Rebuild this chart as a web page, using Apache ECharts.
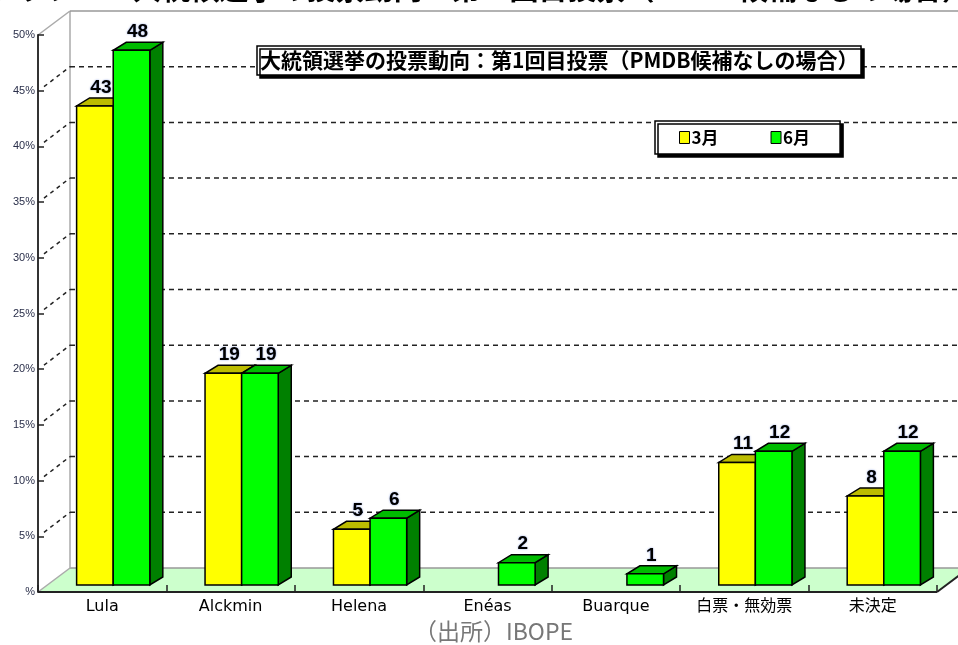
<!DOCTYPE html>
<html>
<head>
<meta charset="utf-8">
<style>
  html, body { margin: 0; padding: 0; background: #fff; }
  #main { width: 958px; height: 645px; }
</style>
<script src="https://cdn.jsdelivr.net/npm/echarts@6/dist/echarts.min.js"></script>
</head>
<body>
<div id="main"></div>
<script>
// 候補者
const categories = ['Lula', 'Alckmin', 'Helena', 'Enéas', 'Buarque', '白票・無効票', '未決定']
// 3月 / 6月 (%)
const march = [43, 19, 5, 0, 0, 11, 8]
const june = [48, 19, 6, 2, 1, 12, 12]
const yTicks = [0, 5, 10, 15, 20, 25, 30, 35, 40, 45, 50]

const cjk = '"Noto Sans CJK JP", "Liberation Sans", sans-serif'
const wallDx = 32, wallDy = -24   // 奥の壁までのずれ
const barDx = 11, barDy = -7      // 棒の前面の位置
const depDx = 13, depDy = -8      // 棒の奥行き

// 3D風の棒 (0 = 3月, 1 = 6月)
function barItem(side, front, top, sideColor) {
    return function (params, api) {
        const idx = api.value(0)
        const val = api.value(1)
        if (!val) return null
        const base = api.coord([idx, 0])
        const tip = api.coord([idx, val])
        const bw = api.size([1, 0])[0] * 0.285
        const x0 = base[0] + (side === 0 ? -bw : 0) + barDx
        const x1 = x0 + bw
        const yb = base[1] + barDy
        const yt = tip[1] + barDy
        const line = { stroke: '#000', lineWidth: 1.5 }
        return {
            type: 'group',
            children: [
                { type: 'polygon', shape: { points: [[x1, yt], [x1, yb], [x1 + depDx, yb + depDy], [x1 + depDx, yt + depDy]] },
                  style: Object.assign({ fill: sideColor }, line) },
                { type: 'polygon', shape: { points: [[x0, yt], [x1, yt], [x1 + depDx, yt + depDy], [x0 + depDx, yt + depDy]] },
                  style: Object.assign({ fill: top }, line) },
                { type: 'rect', shape: { x: x0, y: yt, width: bw, height: yb - yt },
                  style: Object.assign({ fill: front }, line) },
                { type: 'text', x: (x0 + x1) / 2 + 6, y: yt + depDy - 1,
                  style: { text: String(val), fill: '#000', font: 'bold 19px "Liberation Sans", Arial',
                           align: 'center', verticalAlign: 'bottom',
                           textShadowColor: 'rgba(40,80,200,0.55)', textShadowBlur: 2 } }
            ]
        }
    }
}

// 床・壁・補助線
function frameItem(params, api) {
    const v = api.value(1)
    const cs = params.coordSys
    const p = api.coord([0, v])
    const y = p[1]
    const left = cs.x, right = cs.x + cs.width
    const children = []
    if (v === 0) {
        children.push({ type: 'polygon', shape: { points: [[left, y], [right, y], [right + wallDx, y + wallDy], [left + wallDx, y + wallDy]] },
                        style: { fill: '#ccffcc', stroke: null } })
        children.push({ type: 'line', shape: { x1: left + wallDx, y1: y + wallDy, x2: right + wallDx, y2: y + wallDy },
                        style: { stroke: '#999', lineWidth: 1.5 } })
        children.push({ type: 'line', shape: { x1: left, y1: y, x2: left + wallDx, y2: y + wallDy },
                        style: { stroke: '#aaa', lineWidth: 1.5 } })
        children.push({ type: 'line', shape: { x1: left, y1: y, x2: right, y2: y },
                        style: { stroke: '#222', lineWidth: 2 } })
        children.push({ type: 'line', shape: { x1: right, y1: y, x2: right + wallDx, y2: y + wallDy },
                        style: { stroke: '#222', lineWidth: 2 } })
        // 奥の壁の縦線
        const topY = api.coord([0, 50])[1]
        children.push({ type: 'line', shape: { x1: left + wallDx, y1: y + wallDy, x2: left + wallDx, y2: topY + wallDy },
                        style: { stroke: '#aaa', lineWidth: 1.5 } })
    } else if (v === 50) {
        children.push({ type: 'line', shape: { x1: left, y1: y, x2: left + wallDx, y2: y + wallDy },
                        style: { stroke: '#aaa', lineWidth: 1.5 } })
        children.push({ type: 'line', shape: { x1: left + wallDx, y1: y + wallDy, x2: right + wallDx, y2: y + wallDy },
                        style: { stroke: '#999', lineWidth: 1.5 } })
    } else {
        children.push({ type: 'line', shape: { x1: left + 6, y1: y - 4, x2: left + wallDx, y2: y + wallDy },
                        style: { stroke: '#222', lineWidth: 1.5, lineDash: [4, 4] } })
        children.push({ type: 'line', shape: { x1: left + wallDx, y1: y + wallDy, x2: right + wallDx, y2: y + wallDy },
                        style: { stroke: '#222', lineWidth: 1.5, lineDash: [5, 4] } })
    }
    return { type: 'group', children: children }
}

const chart = echarts.init(document.getElementById('main'))
chart.setOption({
    animation: false,
    backgroundColor: '#fff',
    title: {
        text: '大統領選挙の投票動向：第1回目投票（PMDB候補なしの場合）',
        left: 257, top: 46,
        padding: [4, 3, 4, 3],
        backgroundColor: '#fff',
        borderColor: '#000', borderWidth: 1.5,
        shadowColor: '#000', shadowOffsetX: 3, shadowOffsetY: 3, shadowBlur: 0,
        textStyle: { fontFamily: cjk, fontWeight: 'bold', fontSize: 21, color: '#000' }
    },
    legend: {
        left: 655, top: 121,
        padding: [8, 30, 8, 24],
        itemGap: 52,
        itemWidth: 10, itemHeight: 12,
        icon: 'rect',
        backgroundColor: '#fff',
        borderColor: '#000', borderWidth: 1.5,
        shadowColor: '#000', shadowOffsetX: 3, shadowOffsetY: 3, shadowBlur: 0,
        textStyle: { fontFamily: cjk, fontWeight: 'bold', fontSize: 17, color: '#000', padding: [0, 0, 0, -3] },
        data: [
            { name: '3月', itemStyle: { color: '#ffff00', borderColor: '#000', borderWidth: 1 } },
            { name: '6月', itemStyle: { color: '#00ff00', borderColor: '#000', borderWidth: 1 } }
        ]
    },
    graphic: [
        { type: 'text', right: -13, top: -26,
          style: { text: 'グラフ２　大統領選挙の投票動向：第１回目投票（PMDB候補なしの場合）',
                   font: 'bold 29px "Noto Sans CJK JP"', fill: '#000' } },
        { type: 'text', left: 414, top: 620,
          style: { text: '（出所）IBOPE', font: '23px "Noto Sans CJK JP"', fill: '#777' } }
    ],
    grid: { left: 38, right: 21, top: 35, bottom: 53 },
    xAxis: {
        type: 'category',
        data: categories,
        z: 10,
        axisLine: { show: false },
        axisTick: { show: true, inside: true, length: 7, lineStyle: { color: '#222', width: 1.5 } },
        axisLabel: { color: '#000', fontSize: 16, margin: 7,
                     fontFamily: '"DejaVu Sans", "Noto Sans CJK JP", sans-serif' }
    },
    yAxis: {
        type: 'value',
        min: 0, max: 50, interval: 5,
        z: 10,
        axisLine: { show: true, lineStyle: { color: '#333', width: 2 } },
        axisTick: { show: true, inside: true, length: 6, lineStyle: { color: '#222', width: 1.5 } },
        splitLine: { show: false },
        axisLabel: {
            color: '#2a2f4a', fontSize: 11, margin: 3, fontFamily: '"Liberation Sans", Arial',
            formatter: function (v) { return v === 0 ? '%' : v + '%' }
        }
    },
    series: [
        { name: 'frame', type: 'custom', z: 1, silent: true,
          renderItem: frameItem,
          data: yTicks.map(function (v) { return [0, v] }) },
        { name: '3月', type: 'custom', z: 2,
          itemStyle: { color: '#ffff00' },
          renderItem: barItem(0, '#ffff00', '#bcbc00', '#8a8a00'),
          data: march.map(function (v, i) { return [i, v] }) },
        { name: '6月', type: 'custom', z: 3,
          itemStyle: { color: '#00ff00' },
          renderItem: barItem(1, '#00ff00', '#00bb00', '#008000'),
          data: june.map(function (v, i) { return [i, v] }) }
    ]
})
</script>
</body>
</html>
